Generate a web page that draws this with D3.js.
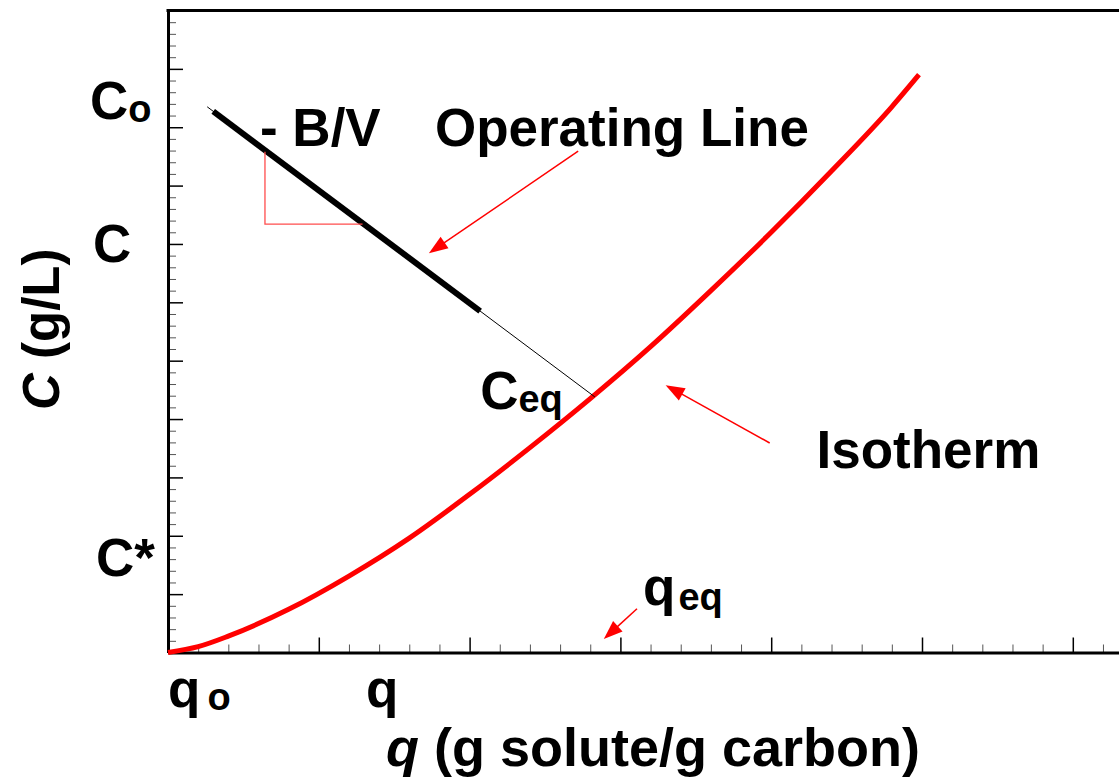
<!DOCTYPE html>
<html>
<head>
<meta charset="utf-8">
<script src="https://cdn.jsdelivr.net/npm/d3@7"></script>
<style>
body { margin: 0; background: #fff; }
svg { display: block; font-family: "Liberation Sans", Arial, sans-serif; font-weight: bold; }
</style>
</head>
<body>
<svg id="chart"></svg>
<script>
var WIDTH = 1119;
var HEIGHT = 778;

// isotherm (q, C)
var isoQ = [0, 0.2, 0.4, 0.8, 1.2, 1.6, 2.0, 2.4, 2.8, 3.2, 3.6, 4.0, 4.4, 4.8, 4.98];
var isoC = [0, 0.10, 0.28, 0.74, 1.31, 1.96, 2.71, 3.51, 4.35, 5.24, 6.2, 7.2, 8.25, 9.35, 9.9];

// operating line (thin full length, thick part)
var opQ = [0.26, 2.83];
var opC = [9.35, 4.38];
var opBoldQ = [0.30, 2.07];
var opBoldC = [9.27, 5.85];

// slope triangle -B/V
var triQ = [0.643, 0.643, 1.29];
var triC = [8.58, 7.34, 7.34];

// red arrows: Operating Line, Isotherm, q_eq
var arrowFromQ = [2.72, 3.99, 3.11];
var arrowFromC = [8.59, 3.59, 0.75];
var arrowToQ = [1.73, 3.30, 2.89];
var arrowToC = [6.84, 4.58, 0.23];

// labels: main text, subscript, position in data units
var labelText = ['C', 'C', 'C*', 'q', 'q', 'C', 'q', '- B/V', 'Operating Line', 'Isotherm'];
var labelSub = ['o', '', '', 'o', '', 'eq', 'eq', '', '', ''];
var labelQ = [-0.517, -0.497, -0.477, 0.0, 1.313, 2.07, 3.15, 0.61, 1.77, 4.30];
var labelC = [9.14, 6.69, 1.31, -0.934, -0.934, 4.17, 0.81, 8.68, 8.68, 3.16];

var svg = d3.select('#chart')
    .attr('width', WIDTH)
    .attr('height', HEIGHT);

svg.append('rect').attr('width', WIDTH).attr('height', HEIGHT).attr('fill', '#fff');

var x = d3.scaleLinear().domain([0, 7]).range([168, 168 + 7 * 150.8]);
var y = d3.scaleLinear().domain([0, 11]).range([652.5, 10.5]);

var xMajor = d3.range(0, 8);
var xMinor = d3.range(0, 36).filter(function(i) { return i % 5 !== 0; }).map(function(i) { return i / 5; });
var yMajor = d3.range(0, 12);
var yMinor = d3.range(0, 56).filter(function(i) { return i % 5 !== 0; }).map(function(i) { return i / 5; });

// x axis, ticks pointing up into the plot
var gx = svg.append('g').attr('transform', 'translate(0,' + y(0) + ')');
gx.append('g').call(d3.axisTop(x).tickValues(xMinor).tickSize(8).tickSizeOuter(0).tickFormat(''))
    .call(function(g) { g.select('.domain').remove(); g.selectAll('line').attr('stroke', '#555').attr('stroke-width', 1); });
gx.append('g').call(d3.axisTop(x).tickValues(xMajor).tickSize(15).tickSizeOuter(0).tickFormat(''))
    .call(function(g) {
        g.select('.domain').attr('stroke', '#000').attr('stroke-width', 3);
        g.selectAll('line').attr('stroke', '#000').attr('stroke-width', 1.5);
    });

// y axis, ticks pointing right into the plot
var gy = svg.append('g').attr('transform', 'translate(' + x(0) + ',0)');
gy.append('g').call(d3.axisRight(y).tickValues(yMinor).tickSize(8).tickSizeOuter(0).tickFormat(''))
    .call(function(g) { g.select('.domain').remove(); g.selectAll('line').attr('stroke', '#555').attr('stroke-width', 1); });
gy.append('g').call(d3.axisRight(y).tickValues(yMajor).tickSize(15).tickSizeOuter(0).tickFormat(''))
    .call(function(g) {
        g.select('.domain').attr('stroke', '#000').attr('stroke-width', 3);
        g.selectAll('line').attr('stroke', '#000').attr('stroke-width', 1.5);
    });

// top border of the frame
svg.append('line')
    .attr('x1', x(0) - 1.5).attr('x2', x(7))
    .attr('y1', y(11)).attr('y2', y(11))
    .attr('stroke', '#000').attr('stroke-width', 3);

var line = d3.line()
    .x(function(d) { return x(d[0]); })
    .y(function(d) { return y(d[1]); });

// isotherm
svg.append('path')
    .datum(d3.zip(isoQ, isoC))
    .attr('d', line.curve(d3.curveMonotoneX))
    .attr('fill', 'none')
    .attr('stroke', '#ff0000')
    .attr('stroke-width', 5);

line.curve(d3.curveLinear);

// operating line
svg.append('path').datum(d3.zip(opQ, opC)).attr('d', line)
    .attr('fill', 'none').attr('stroke', '#000').attr('stroke-width', 1);
svg.append('path').datum(d3.zip(opBoldQ, opBoldC)).attr('d', line)
    .attr('fill', 'none').attr('stroke', '#000').attr('stroke-width', 6);

// slope triangle
svg.append('path').datum(d3.zip(triQ, triC)).attr('d', line)
    .attr('fill', 'none').attr('stroke', '#ff4d4d').attr('stroke-width', 1.3);

// arrows
arrowFromQ.forEach(function(q0, i) {
    var x0 = x(q0), y0 = y(arrowFromC[i]);
    var x1 = x(arrowToQ[i]), y1 = y(arrowToC[i]);
    var dx = x1 - x0, dy = y1 - y0, len = Math.sqrt(dx * dx + dy * dy);
    var ux = dx / len, uy = dy / len;
    var headLen = 19, headW = 7;
    var bx = x1 - ux * headLen, by = y1 - uy * headLen;
    svg.append('line')
        .attr('x1', x0).attr('y1', y0).attr('x2', bx + ux * 2).attr('y2', by + uy * 2)
        .attr('stroke', '#ff0000').attr('stroke-width', 1.5);
    svg.append('polygon')
        .attr('points', [[x1, y1], [bx - uy * headW, by + ux * headW], [bx + uy * headW, by - ux * headW]].join(' '))
        .attr('fill', '#ff0000');
});

// labels
labelText.forEach(function(t, i) {
    var txt = svg.append('text')
        .attr('x', x(labelQ[i]))
        .attr('y', y(labelC[i]))
        .attr('font-size', 53)
        .attr('fill', '#000')
        .text(t);
    if (labelSub[i]) {
        txt.append('tspan')
            .attr('font-size', 38)
            .attr('dx', t === 'q' ? (labelSub[i] === 'o' ? 7 : 3) : 0)
            .attr('dy', t === 'q' && labelSub[i] === 'eq' ? 5 : 3)
            .text(labelSub[i]);
    }
});

// axis titles
var xt = svg.append('text')
    .attr('x', 386).attr('y', 766)
    .attr('font-size', 54);
xt.append('tspan').attr('font-style', 'italic').text('q');
xt.append('tspan').text(' (g solute/g carbon)');

var yt = svg.append('text')
    .attr('transform', 'translate(59,410) rotate(-90)')
    .attr('font-size', 51);
yt.append('tspan').attr('font-style', 'italic').text('C');
yt.append('tspan').text(' (g/L)');
</script>
</body>
</html>
